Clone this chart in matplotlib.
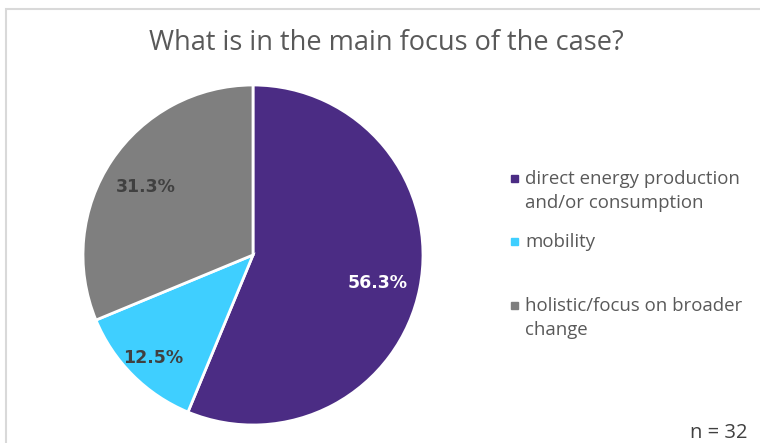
import matplotlib.pyplot as plt
from matplotlib.patches import Rectangle
import numpy as np

categories = ["direct energy production\nand/or consumption", "mobility",
              "holistic/focus on broader\nchange"]
counts = [18, 4, 10]
pct_labels = ["56.3%", "12.5%", "31.3%"]
colors = ["#4B2C84", "#3FCFFF", "#7F7F7F"]
label_colors = ["white", "#404040", "#404040"]
label_dist = [0.75, 0.83, 0.76]

plt.rcParams['font.family'] = ['Open Sans', 'DejaVu Sans']

fig = plt.figure(figsize=(7.6, 4.43), dpi=100)
W, H = 760, 443

# chart border (only top/left visible in crop)
fig.patches.append(Rectangle((6 / W, -0.1), 1.2, 1.1 - 9 / H, transform=fig.transFigure,
                             fill=False, edgecolor="#D9D9D9", linewidth=1.5))

fig.text(386 / W, 1 - 43 / H, "What is in the main focus of the case?",
         ha="center", va="center", fontsize=19.5, color="#595959")

# pie
cx, cy, r = 253, 255, 170
ax = fig.add_axes([(cx - r) / W, 1 - (cy + r) / H, 2 * r / W, 2 * r / H])
wedges, _ = ax.pie(counts, colors=colors, startangle=90, counterclock=False,
                   wedgeprops=dict(edgecolor="white", linewidth=2))
ax.set_aspect("equal")
ax.set_xlim(-1, 1)
ax.set_ylim(-1, 1)

for w, lab, c, d in zip(wedges, pct_labels, label_colors, label_dist):
    ang = np.deg2rad((w.theta1 + w.theta2) / 2)
    ax.text(d * np.cos(ang), d * np.sin(ang) - 0.02, lab, ha="center", va="center",
            fontsize=12.5, fontweight="bold", color=c, family="DejaVu Sans")

# legend
leg_y = [179, 242, 306]
for y, lab, c in zip(leg_y, categories, colors):
    fig.patches.append(Rectangle((511 / W, 1 - (y + 3) / H), 7 / W, 7 / H,
                                 transform=fig.transFigure, color=c))
    fig.text(525 / W, 1 - (y - 9) / H, lab, ha="left", va="top", fontsize=13.4,
             color="#595959", linespacing=1.45)

fig.text(748 / W, 1 - 433 / H, "n = 32", ha="right", va="center", fontsize=14.5,
         color="#404040")

fig.savefig("out.png", dpi=100)
